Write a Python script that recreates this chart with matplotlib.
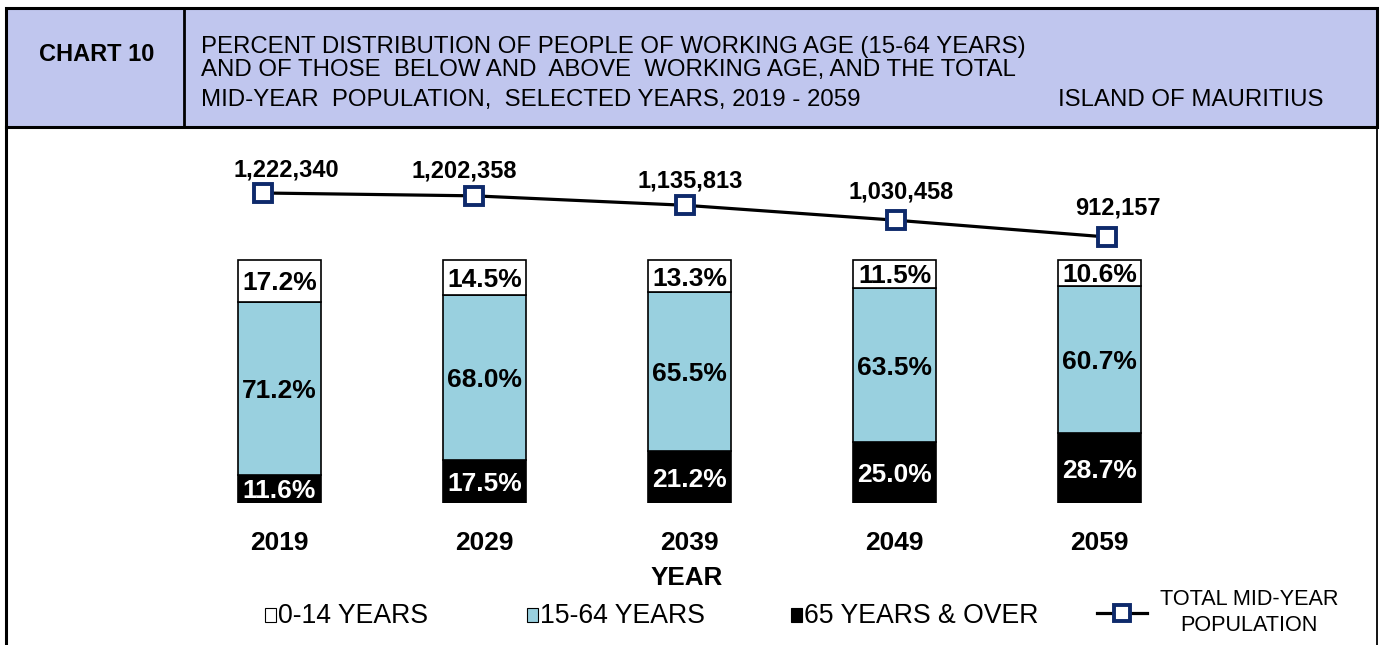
import matplotlib
matplotlib.use("Agg")
import matplotlib.pyplot as plt
from matplotlib.patches import Rectangle
from matplotlib.lines import Line2D

years = ["2019", "2029", "2039", "2049", "2059"]
pct_0_14 = [17.2, 14.5, 13.3, 11.5, 10.6]
pct_15_64 = [71.2, 68.0, 65.5, 63.5, 60.7]
pct_65_over = [11.6, 17.5, 21.2, 25.0, 28.7]
total_pop = [1222340, 1202358, 1135813, 1030458, 912157]
legend_labels = ["0-14 YEARS", "15-64 YEARS", "65 YEARS & OVER"]
line_label = ["TOTAL MID-YEAR", "POPULATION"]

FONT = ["Liberation Sans", "DejaVu Sans"]
plt.rcParams["font.family"] = FONT

W, H = 1380, 645
fig = plt.figure(figsize=(W / 100, H / 100), dpi=100)
fig.patch.set_facecolor("white")


def fx(px):
    return px / W


def fy(py):
    return 1 - py / H


# ---- header box ----
hdr = Rectangle((fx(6), fy(127)), fx(1377) - fx(6), fy(8) - fy(127),
                transform=fig.transFigure, facecolor="#C0C6EE", edgecolor="black",
                linewidth=2.2, zorder=0)
fig.patches.append(hdr)
fig.add_artist(Line2D([fx(184), fx(184)], [fy(8), fy(127)], color="black", lw=2.0,
                      transform=fig.transFigure))
fig.add_artist(Line2D([fx(6), fx(6)], [fy(127), 0], color="black", lw=2.2,
                      transform=fig.transFigure))
fig.add_artist(Line2D([fx(1377), fx(1377)], [fy(127), 0], color="black", lw=1.3,
                      transform=fig.transFigure))

fig.text(fx(97), fy(61), "CHART 10", ha="center", va="baseline", fontsize=17,
         fontweight="bold")
title_lines = ["PERCENT DISTRIBUTION OF PEOPLE OF WORKING AGE (15-64 YEARS)",
               "AND OF THOSE  BELOW AND  ABOVE  WORKING AGE, AND THE TOTAL",
               "MID-YEAR  POPULATION,  SELECTED YEARS, 2019 - 2059"]
for line, py in zip(title_lines, [53, 76, 106]):
    fig.text(fx(201), fy(py), line, ha="left", va="baseline", fontsize=17.3)
fig.text(fx(1323), fy(106), "ISLAND OF MAURITIUS", ha="right", va="baseline",
         fontsize=17.3)

# ---- bar axes ----
ax_left_px, ax_right_px = 200, 1180
ax_top_px, ax_bot_px = 150, 503
full_px = 243.0
rect = [fx(ax_left_px), fy(ax_bot_px), fx(ax_right_px) - fx(ax_left_px),
        fy(ax_top_px) - fy(ax_bot_px)]
ax = fig.add_axes(rect)
ax.set_ylim(0, 100 * (ax_bot_px - ax_top_px) / full_px)
step = 205.0
c0 = 279.5
ax.set_xlim(-(c0 - ax_left_px) / step, 4 + (ax_right_px - (c0 + 4 * step)) / step)
ax.axis("off")

x = list(range(len(years)))
bw = 83 / step
blue = "#99D0DF"
ax.bar(x, pct_65_over, width=bw, color="black", edgecolor="black", lw=1.2)
ax.bar(x, pct_15_64, width=bw, bottom=pct_65_over, color=blue, edgecolor="black", lw=1.2)
bottom3 = [a + b for a, b in zip(pct_65_over, pct_15_64)]
ax.bar(x, pct_0_14, width=bw, bottom=bottom3, color="white", edgecolor="black", lw=1.2)

for i in x:
    ax.text(i, pct_65_over[i] / 2, f"{pct_65_over[i]:.1f}%", ha="center",
            va="center_baseline", color="white", fontsize=19, fontweight="bold")
    ax.text(i, pct_65_over[i] + pct_15_64[i] / 2, f"{pct_15_64[i]:.1f}%", ha="center",
            va="center_baseline", color="black", fontsize=19, fontweight="bold")
    ax.text(i, bottom3[i] + pct_0_14[i] / 2, f"{pct_0_14[i]:.1f}%", ha="center",
            va="center_baseline", color="black", fontsize=19, fontweight="bold")

# ---- line axes (own category positions, like an Excel secondary axis) ----
ax2 = fig.add_axes(rect)
ax2.patch.set_alpha(0)
lstep = 211.0
l0 = 263.0
ax2.set_xlim(-(l0 - ax_left_px) / lstep, 4 + (ax_right_px - (l0 + 4 * lstep)) / lstep)
ppx = (1222340 - 912157) / (237 - 193)
ax2.set_ylim(912157 - (ax_bot_px - 237) * ppx, 1222340 + (193 - ax_top_px) * ppx)
ax2.axis("off")
navy = "#0E2A6B"
ax2.plot(x, total_pop, color="black", lw=2.3, marker="s", markersize=12.5,
         markerfacecolor="white", markeredgecolor=navy, markeredgewidth=2.8, zorder=5)
label_dx = [23, -10, 5, 5, 11]
label_dy = [17, 18, 18, 22, 22]
for i in x:
    ax2.annotate(f"{total_pop[i]:,}", (i, total_pop[i]),
                 xytext=(label_dx[i] * 0.72, label_dy[i] * 0.72),
                 textcoords="offset points", ha="center", va="baseline",
                 fontsize=17, fontweight="bold")

for i, yr in zip(x, years):
    xc = fig.transFigure.inverted().transform(ax.transData.transform((i, 0)))[0]
    fig.text(xc, fy(550), yr, ha="center", va="baseline", fontsize=19, fontweight="bold")
fig.text(fx(687), fy(585), "YEAR", ha="center", va="baseline", fontsize=18.7,
         fontweight="bold")

# ---- legend ----
items = [(265, "white"), (527, blue), (791, "black")]
for (px, col), lab in zip(items, legend_labels):
    fig.add_artist(Rectangle((fx(px), fy(622)), fx(11), fy(608) - fy(622),
                             transform=fig.transFigure, facecolor=col,
                             edgecolor="black", lw=0.8))
    fig.text(fx(px + 13), fy(623), lab, ha="left", va="baseline", fontsize=19.2)
leg_y = fy(613)
fig.add_artist(Line2D([fx(1097), fx(1147)], [leg_y, leg_y], color="black", lw=2.3,
                      transform=fig.transFigure))
fig.add_artist(Line2D([fx(1122)], [leg_y], color="black", marker="s", markersize=11.5,
                      markerfacecolor="white", markeredgecolor=navy,
                      markeredgewidth=2.8, linestyle="none", transform=fig.transFigure))
fig.text(fx(1249), fy(605), line_label[0], ha="center", va="baseline", fontsize=15.6)
fig.text(fx(1249), fy(631), line_label[1], ha="center", va="baseline", fontsize=15.6)

fig.savefig("out.png", dpi=100)
